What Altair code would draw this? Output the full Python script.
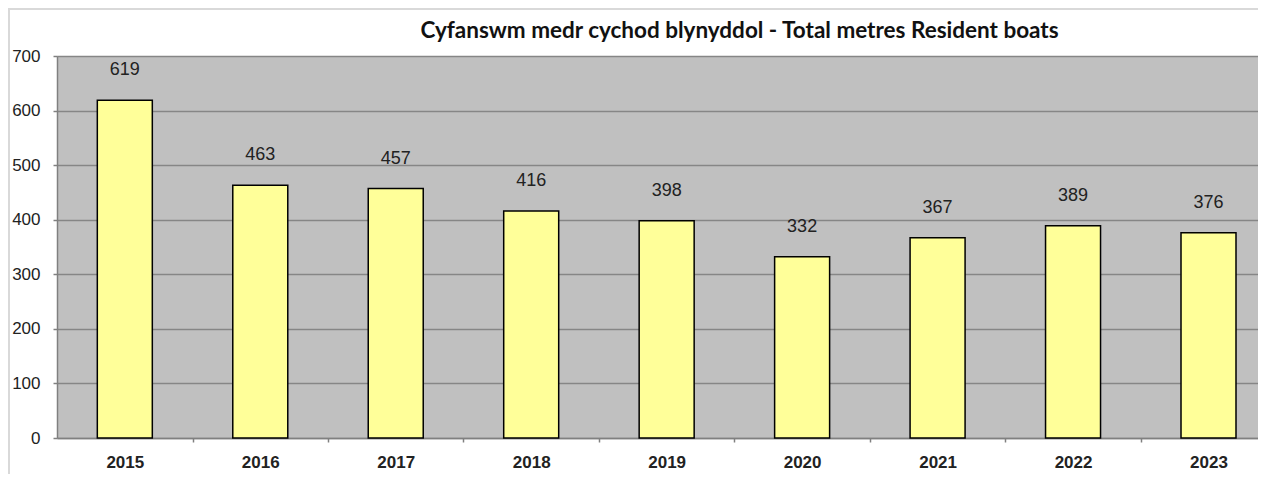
import altair as alt
import pandas as pd

years = ["2015", "2016", "2017", "2018", "2019", "2020", "2021", "2022", "2023"]
values = [619, 463, 457, 416, 398, 332, 367, 389, 376]
y_ticks = [0, 100, 200, 300, 400, 500, 600, 700]
title_text = "Cyfanswm medr cychod blynyddol - Total metres Resident boats"

df = pd.DataFrame({"year": years, "value": values})

W = 1201
H = 382
step = W / 8.866
half = step / 2

x_enc = alt.X(
    "year:N",
    sort=years,
    title=None,
    scale=alt.Scale(paddingInner=0.594, paddingOuter=0.23, align=0.647),
    axis=alt.Axis(
        labelAngle=0,
        labelFont="Liberation Sans",
        labelFontWeight="bold",
        labelFontSize=17,
        labelColor="#222222",
        labelBaseline="middle",
        labelPadding=20,
        tickSize=4,
        tickColor="#808080",
        tickWidth=1.5,
        tickOffset=half,
        labelOffset=-half,
        domainColor="#808080",
        domainWidth=1.5,
        grid=False,
    ),
)
y_enc = alt.Y(
    "value:Q",
    title=None,
    scale=alt.Scale(domain=[0, 700], nice=False),
    axis=alt.Axis(
        values=y_ticks,
        grid=True,
        gridColor="#868686",
        gridWidth=1.5,
        tickSize=4,
        tickColor="#808080",
        tickWidth=1.5,
        labelFont="Liberation Sans",
        labelFontSize=17,
        labelColor="#222222",
        labelPadding=13,
        domainColor="#808080",
        domainWidth=1.5,
    ),
)

base = alt.Chart(df)

bars = base.mark_bar(fill="#ffff99", stroke="#000000", strokeWidth=1.5).encode(x=x_enc, y=y_enc)

labels = base.mark_text(
    dy=-30,
    baseline="middle",
    font="Liberation Sans Narrow, Liberation Sans",
    fontSize=18,
    color="#222222",
).encode(x=alt.X("year:N", sort=years), y=alt.Y("value:Q"), text=alt.Text("value:Q"))

frame_left = base.mark_rule(color="#d9d9d9", strokeWidth=2).encode(
    x=alt.value(-48), y=alt.value(-47), y2=alt.value(420)
)
frame_top = base.mark_rule(color="#d9d9d9", strokeWidth=2).encode(
    x=alt.value(-49), x2=alt.value(W), y=alt.value(-47)
)

chart = (
    alt.layer(frame_left, frame_top, bars, labels)
    .properties(
        width=W,
        height=H,
        background="#ffffff",
        autosize=alt.AutoSizeParams(type="none"),
        padding={"left": 49, "top": 48, "right": 0, "bottom": 36},
        title=alt.Title(
            title_text,
            font="Lato",
            fontWeight="bold",
            fontSize=22.5,
            color="#111111",
            anchor="middle",
            baseline="middle",
            dx=82,
            dy=45,
            offset=0,
        ),
    )
    .configure_view(fill="#c0c0c0", strokeWidth=0)
)

chart.save("out.html", embed_options={"renderer": "svg", "actions": False})
